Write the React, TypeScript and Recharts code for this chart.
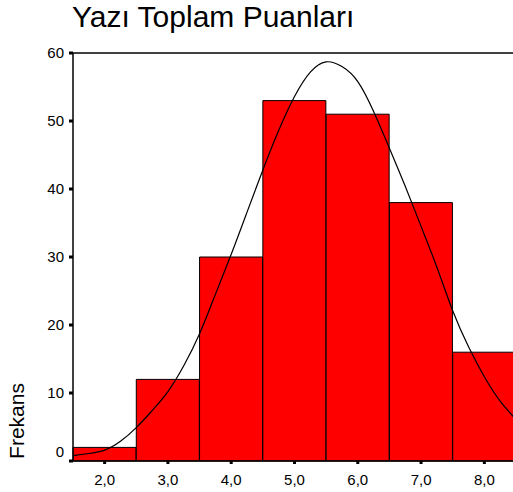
import {
  Bar,
  ComposedChart,
  Line,
  ReferenceLine,
  XAxis,
  YAxis,
} from 'recharts'

const categories = ['2,0', '3,0', '4,0', '5,0', '6,0', '7,0', '8,0']
const frequencies = [2, 12, 30, 53, 51, 38, 16]
const yTicks = [0, 10, 20, 30, 40, 50, 60]

// normal curve
const curveX = [
  1.5, 1.75, 2.0, 2.25, 2.5, 2.75, 3.0, 3.25, 3.5, 3.75, 4.0, 4.25, 4.5, 4.75,
  5.0, 5.25, 5.5, 5.75, 6.0, 6.25, 6.5, 6.75, 7.0, 7.25, 7.5, 7.75, 8.0, 8.25,
  8.5,
]
const curveY = [
  0.8, 1.1, 1.6, 2.9, 4.9, 7.4, 10.2, 14.0, 18.7, 24.5, 30.4, 36.6, 42.8, 48.6,
  53.6, 57.2, 58.7, 58.0, 55.8, 51.4, 46.0, 40.4, 34.5, 28.5, 22.1, 16.8, 12.4,
  8.8, 6.1,
]

const barData = categories.map((c, i) => ({ name: c, value: frequencies[i] }))
const curveData = curveX.map((x, i) => ({ x, v: curveY[i] }))

const font = "'Liberation Sans', Arial, sans-serif"

const YTick = ({ x, y, payload }: any) => (
  <text
    x={x}
    y={payload.value === 0 ? y - 9 : y}
    dy="0.36em"
    textAnchor="end"
    fontSize={15}
    fontFamily={font}
    fill="#000"
  >
    {payload.value}
  </text>
)

const App = () => {
  return (
    <div
      style={{
        position: 'fixed',
        left: 0,
        top: 0,
        width: 513,
        height: 492,
        overflow: 'hidden',
        background: '#fff',
      }}
    >
      <div
        style={{
          position: 'absolute',
          left: 72,
          top: -1,
          fontFamily: font,
          fontSize: 30,
          lineHeight: '36px',
          color: '#000',
          whiteSpace: 'nowrap',
        }}
      >
        Yazı Toplam Puanları
      </div>
      <div
        style={{
          position: 'absolute',
          left: 17,
          top: 421,
          transform: 'translate(-50%, -50%) rotate(-90deg)',
          fontFamily: font,
          fontSize: 21,
          color: '#000',
          whiteSpace: 'nowrap',
        }}
      >
        Frekans
      </div>
      <ComposedChart
        width={540}
        height={492}
        data={barData}
        barCategoryGap={0}
        margin={{ top: 53, right: 24, left: 0, bottom: 6 }}
      >
        <XAxis
          xAxisId="cat"
          dataKey="name"
          height={25}
          axisLine={{ stroke: '#000', strokeWidth: 1.5 }}
          tickLine={{ stroke: '#000', strokeWidth: 3 }}
          tickSize={3}
          tickMargin={10}
          tick={{ fill: '#000', fontSize: 15, fontFamily: font }}
          interval={0}
        />
        <XAxis
          xAxisId="num"
          type="number"
          dataKey="x"
          domain={[1.5, 8.5]}
          allowDataOverflow
          hide
        />
        <YAxis
          domain={[0, 60]}
          ticks={yTicks}
          width={73}
          axisLine={{ stroke: '#000', strokeWidth: 1.5 }}
          tickLine={{ stroke: '#000', strokeWidth: 3 }}
          tickSize={4}
          tickMargin={5}
          tick={<YTick />}
        />
        <ReferenceLine xAxisId="num" y={60} stroke="#000" strokeWidth={1.5} />
        <Bar
          xAxisId="cat"
          dataKey="value"
          fill="#ff0000"
          stroke="#000"
          strokeWidth={1}
          isAnimationActive={false}
        />
        <Line
          xAxisId="num"
          data={curveData}
          dataKey="v"
          type="natural"
          stroke="#000"
          strokeWidth={1.2}
          dot={false}
          activeDot={false}
          isAnimationActive={false}
        />
      </ComposedChart>
    </div>
  )
}

export default App
